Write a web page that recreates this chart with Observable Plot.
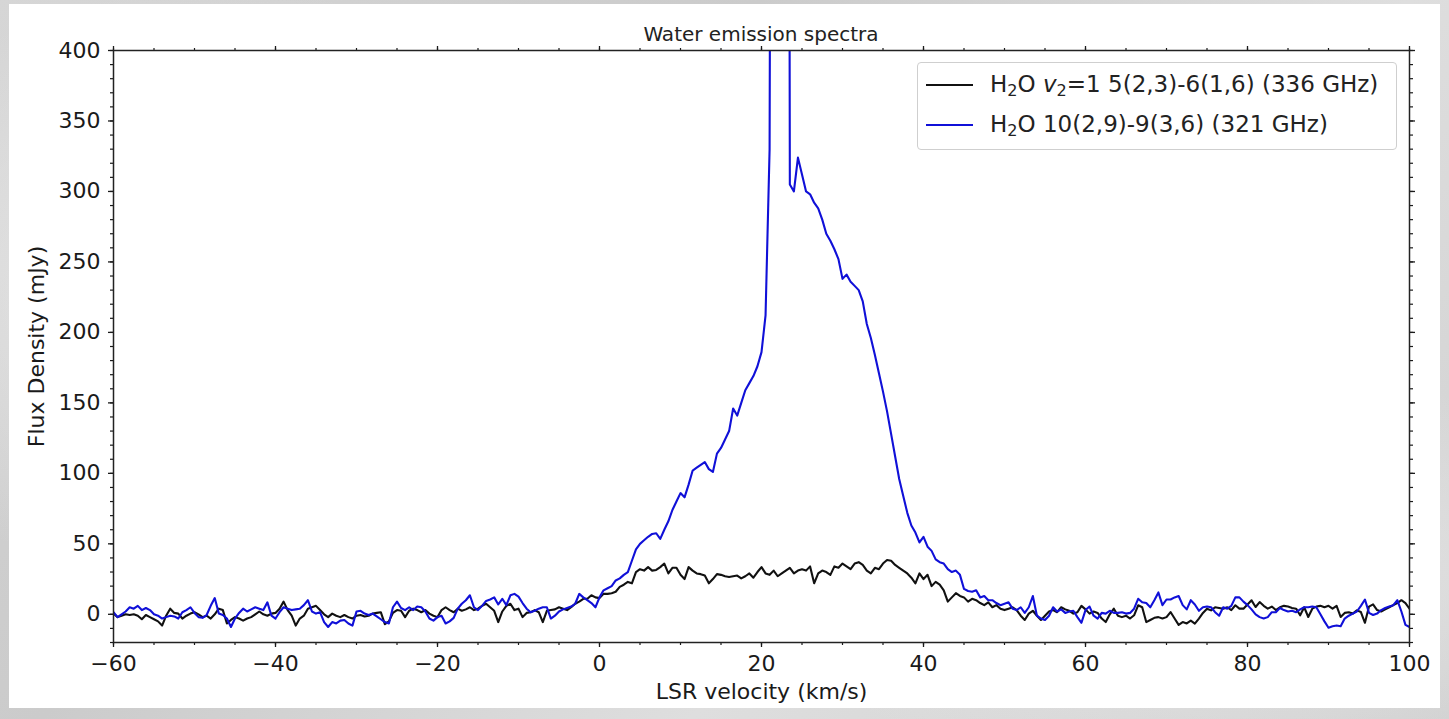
<!DOCTYPE html>
<html>
<head>
<meta charset="utf-8">
<script src="https://cdn.jsdelivr.net/npm/d3@7"></script>
<script src="https://cdn.jsdelivr.net/npm/@observablehq/plot@0.6"></script>
<style>
  html, body { margin: 0; padding: 0; }
  body {
    width: 1449px; height: 719px; overflow: hidden;
    background:
      radial-gradient(ellipse 40% 60% at 15% 40%, rgba(240,240,240,0.8), rgba(240,240,240,0) 70%),
      radial-gradient(ellipse 50% 40% at 85% 80%, rgba(235,235,235,0.7), rgba(235,235,235,0) 70%),
      linear-gradient(135deg, #d6d6d6 0%, #cbcbcb 35%, #dedede 65%, #d0d0d0 100%);
    font-family: "DejaVu Sans", sans-serif;
  }
  #stage { position: relative; width: 1449px; height: 719px; }
  #panel { position: absolute; left: 9px; top: 4px; width: 1431px; height: 704px; background: #ffffff; }
  #chart { position: absolute; left: 0; top: 0; }
  #title {
    position: absolute; left: 113px; width: 1296px; top: 24px;
    text-align: center; font-size: 20px; line-height: 1; color: #222;
  }
  #legend {
    position: absolute; left: 917px; top: 62px; width: 478px; height: 86px;
    border: 1px solid #cfcfcf; border-radius: 4px; background: rgba(255,255,255,0.85);
  }
  .sw { position: absolute; left: 8px; width: 47px; height: 2px; }
  .lt { position: absolute; left: 72px; font-size: 23px; line-height: 1; color: #222; white-space: nowrap; }
  .lt sub { font-size: 70%; vertical-align: -0.22em; line-height: 0; }
</style>
</head>
<body>
<div id="stage">
  <div id="panel"></div>
  <div id="chart"></div>
  <div id="title">Water emission spectra</div>
  <div id="legend">
    <div class="sw" style="top:21px;background:#111111"></div>
    <div class="lt" style="top:10px">H<sub>2</sub>O <i>v</i><sub>2</sub>=1 5(2,3)-6(1,6) (336 GHz)</div>
    <div class="sw" style="top:61px;background:#1010d8"></div>
    <div class="lt" style="top:50px">H<sub>2</sub>O 10(2,9)-9(3,6) (321 GHz)</div>
  </div>
</div>
<script>
// Channel grid of the spectra (LSR velocity, km/s)
const velocityStart = -60;
const channelWidth = 0.5;

// H2O v2=1 5(2,3)-6(1,6) (336 GHz) flux density, mJy, one value per channel from -60 to 100 km/s
const flux336 = [
  0.5, -2, -1, 0, -0.5, 0, -1, -3.5, -0.5, -2,
  -3.5, -5, -8, -1, 4, 1, 0.5, -3, -1, 0.5,
  1.5, 0, -2, -1, -3, 0, 4, 3, -6.5, -4,
  -2, -3, -4.5, -3, -2, 0, 2, 0, -1, 0.5,
  1, 4, 9, 3, -1, -8, -3, -1, 4, 5,
  6, 3, 0, -2, 0.5, -1, -2, -0.5, -2, -3,
  -1, -0.5, -1.5, -1, 0.5, 1, 1.5, -7, -5, 1,
  3, 2.5, -2, 2.5, 4, 3, 1.5, 3, 0.5, -1,
  -2, 3, 5, 3, 1.5, 4, 2.5, 3.5, 5, 3,
  4, 6, 7.5, 5, 2.5, -5.5, 2, 6, 7.5, 3,
  4, -2, 1, 1.5, 3, 1.5, -5.5, 2.5, 3, 3.5,
  5, 4, 3, 5, 7.5, 9, 11, 11, 13.5, 12,
  11.5, 14.5, 14.5, 15, 16, 19.5, 21, 23, 22, 30,
  32, 31, 33.5, 31, 31.5, 33.5, 36, 29, 33, 33,
  28, 25, 33.5, 31, 29, 28.5, 27.5, 22, 25, 28.5,
  28, 27, 26.5, 27, 27.5, 25.5, 27, 29, 26, 30,
  33.5, 29, 28, 31, 27, 29, 31, 33, 29, 31,
  32, 31, 34, 22, 29, 31, 30, 28, 34, 33,
  36, 34, 32, 36, 37, 35, 31, 29, 33, 32,
  36, 38.5, 38, 35, 33, 31, 29, 26, 22, 29,
  25, 28, 20, 23, 21, 17, 9, 12, 15, 13,
  12, 9, 11, 10, 8, 6.5, 8.5, 5, 6.5, 4,
  3, 4, 5, 3, -1, -4, 0.5, 2.5, -1, -4,
  -1, 2, 3, 1.5, 5, 3.5, 2.5, 0.5, 1.5, 6,
  3.5, 0.5, 2, 1, -3, -5.5, 0, 4, -1, -2,
  -1, -3, -0.7, 6.4, 5, -5.5, -4, -2.5, -2, -3,
  -2, 1.6, -3, -7.5, -5.5, -6.5, -4.5, -6.6, -3, 1,
  4, 2.8, 5, 4.5, 4, 5, 3, 6.4, 4, 4,
  7, 9.9, 5.2, 8.7, 6, 4, 5.5, 3, 5, 6,
  5.5, 4.5, 4, -0.7, 5, -1.9, 4, 5.5, 6, 5,
  6, 4, 6, -1.9, 1, 1.5, 0.5, 2.8, 1.6, -6,
  5.5, 7, 3, 2, 3.5, 5, 6.5, 8, 10, 8,
  4
];

// H2O 10(2,9)-9(3,6) (321 GHz) flux density, mJy (maser spike runs far above the 400 mJy limit)
const flux321 = [
  1.5, -2, 0, 2, 5, 4, 6, 3, 4.5, 3,
  0, -1, -3, -2, -1, -1.5, -3, 1.5, 3, 5,
  1, -2, -2.5, -0.5, 6, 11.5, 0.5, -0.5, -3, -9,
  -3, 1, 4, 2, 3.5, 5, 4, 3, 8.5, -1,
  -3, 1.5, 5, 4, 3, 3.5, 4, 6.5, 10, 2,
  0.5, 1.5, -5.5, -9, -5.5, -6.5, -4.5, -4, -6.5, -8,
  2, 2.5, 0.5, -0.5, 0.5, -1.5, -3.5, -5.5, -6.5, 5,
  9, 4.5, 3, 5, 3, 5.5, 5, 2, -3, -4.5,
  -2, -1, -6.5, -5, -2.5, 4, 7.5, 10, 13.5, 5,
  3, 6, 9.5, 10.5, 12, 7, 11, 6.5, 13.5, 14.5,
  12.5, 8, 4, 1.5, 2.5, 4, 5, 5, -3, -1,
  2, 3.5, 4.5, 5.5, 7.5, 14.5, 12, 10, 8, 5,
  12, 17, 18.5, 20, 24, 25.5, 28, 30, 38, 46,
  50, 52.5, 55, 57, 57.5, 53.5, 60, 66, 74, 80,
  86, 83, 92, 102, 104, 106, 108, 103, 101, 114,
  118, 124, 130, 146, 141, 150, 159, 164, 169, 176,
  186, 212, 330, 1500, 2800, 3200, 2000, 305, 300, 324,
  312, 300, 298, 292, 288, 280, 270, 265, 259, 252,
  238, 241, 236, 233, 230, 222, 206, 196, 184, 171,
  158, 144, 128, 112, 96, 84, 72, 63, 58, 51,
  55, 48, 45, 39, 37, 36, 32, 30, 31, 28,
  18, 16.5, 16, 17, 12, 13, 10, 10, 8, 6.5,
  7.5, 8.5, 4, 3, 5, 1, 5, 13, -1, -3,
  -4, -1, 5, 2, 3.5, 1, 2, 2.5, -2, -6,
  3, 5.5, -1, -3, 1, 0.5, 2.5, 1, 1, 1.5,
  0.5, 1, 4, 11, 8.5, 8, 5, 10, 15.5, 6.5,
  10.5, 10.5, 12, 13, 6.5, 3.5, 10, 7, 2.5, 5,
  5.5, 5, 1.5, -1, 5, 4, 6, 12, 12, 9,
  6.5, 3.5, 0, -2, -3, -2, 1.5, 1.5, 4.5, 3,
  2, 2.5, 1.5, 3.5, 5, 5, 5.5, 5, 0, -5,
  -9.5, -8.5, -8, -8.5, -3, -1, 0.5, 2, 6, 10.5,
  1, -0.5, 0.5, 3, 4.5, 5.5, 6.5, 10, 2, -7.5,
  -9
];

const seriesColors = ["#111111", "#1010d8"];

// Axis ticks
const xMajorTicks = [-60, -40, -20, 0, 20, 40, 60, 80, 100];
const xMinorTicks = [-60, -55, -50, -45, -40, -35, -30, -25, -20, -15, -10, -5, 0, 5, 10, 15, 20, 25, 30, 35, 40, 45, 50, 55, 60, 65, 70, 75, 80, 85, 90, 95, 100];
const yMajorTicks = [0, 50, 100, 150, 200, 250, 300, 350, 400];
const yMinorTicks = [-20, -10, 0, 10, 20, 30, 40, 50, 60, 70, 80, 90, 100, 110, 120, 130, 140, 150, 160, 170, 180, 190, 200, 210, 220, 230, 240, 250, 260, 270, 280, 290, 300, 310, 320, 330, 340, 350, 360, 370, 380, 390, 400];

const toRows = (arr) => arr.map((f, i) => ({v: velocityStart + i * channelWidth, f}));
const rows336 = toRows(flux336);
const rows321 = toRows(flux321);

const blank = () => "";

const chart = Plot.plot({
  width: 1449,
  height: 719,
  marginLeft: 113,
  marginRight: 40,
  marginTop: 50,
  marginBottom: 77,
  style: {background: "transparent", fontFamily: "DejaVu Sans", fontSize: "22px", color: "#1a1a1a", overflow: "visible"},
  x: {domain: [-60, 100]},
  y: {domain: [-20, 400]},
  marks: [
    Plot.line(rows336, {x: "v", y: "f", stroke: seriesColors[0], strokeWidth: 2.1, clip: true}),
    Plot.line(rows321, {x: "v", y: "f", stroke: seriesColors[1], strokeWidth: 2.1, clip: true}),
    Plot.axisX({ticks: xMinorTicks, tickSize: 3, tickFormat: blank, label: null, strokeWidth: 1.2}),
    Plot.axisX({anchor: "top", ticks: xMinorTicks, tickSize: 3, tickFormat: blank, label: null, strokeWidth: 1.2}),
    Plot.axisX({anchor: "top", ticks: xMajorTicks, tickSize: 5, tickFormat: blank, label: null, strokeWidth: 1.3}),
    Plot.axisX({ticks: xMajorTicks, tickSize: 5, tickPadding: 8, strokeWidth: 1.3, fontSize: 22,
      label: "LSR velocity (km/s)", labelAnchor: "center", labelArrow: "none", labelOffset: 56}),
    Plot.axisY({ticks: yMinorTicks, tickSize: 3, tickFormat: blank, label: null, strokeWidth: 1.2}),
    Plot.axisY({anchor: "right", ticks: yMinorTicks, tickSize: 3, tickFormat: blank, label: null, strokeWidth: 1.2}),
    Plot.axisY({anchor: "right", ticks: yMajorTicks, tickSize: 5, tickFormat: blank, label: null, strokeWidth: 1.3}),
    Plot.axisY({ticks: yMajorTicks, tickSize: 5, tickPadding: 8, strokeWidth: 1.3, fontSize: 22,
      label: "Flux Density (mJy)", labelAnchor: "center", labelArrow: "none", labelOffset: 85}),
    Plot.frame({stroke: "#222", strokeWidth: 1.5})
  ]
});
document.getElementById("chart").appendChild(chart);
</script>
</body>
</html>
